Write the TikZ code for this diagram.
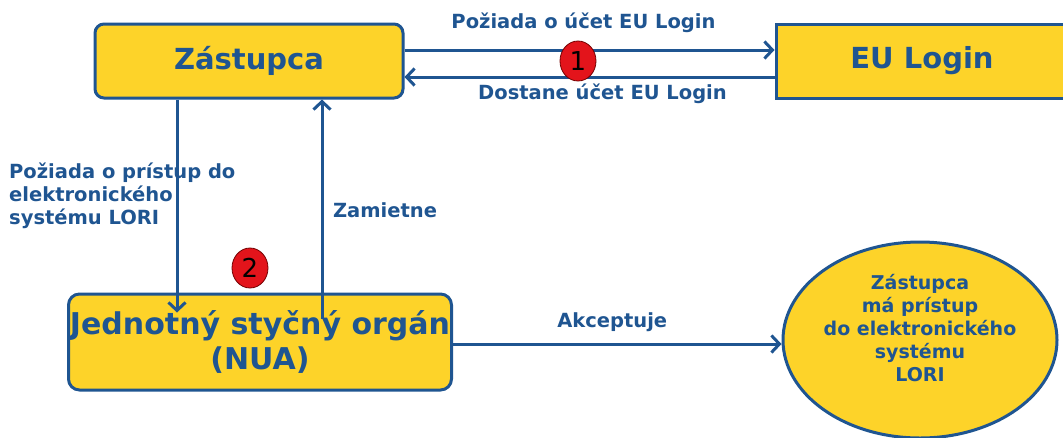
\documentclass[tikz,border=0pt]{standalone}
\usepackage{fontspec}
\setmainfont{DejaVu Sans}
\usetikzlibrary{arrows.meta,shapes.geometric}

\definecolor{loriblue}{HTML}{1F5591}
\definecolor{loriyellow}{HTML}{FDD329}
\definecolor{stepred}{HTML}{E3141B}

\begin{document}
\begin{tikzpicture}[x=1pt,y=-1pt,
  box/.style={draw=loriblue,line width=3pt,fill=loriyellow,text=loriblue,
    font=\bfseries\fontsize{29}{34}\selectfont},
  link/.style={draw=loriblue,line width=3pt,-{Straight Barb[length=8pt,width=17pt]}},
  lbl/.style={text=loriblue,font=\bfseries\fontsize{19.5}{23}\selectfont},
  stepnum/.style={ellipse,draw=red!45!black,line width=0.8pt,fill=stepred,
    minimum width=36pt,minimum height=40pt,inner sep=0pt,font=\fontsize{26}{26}\selectfont}]

\useasboundingbox (0,0) rectangle (1063,437);

\node[box,rounded corners=9pt,minimum width=308pt,minimum height=74pt] (zast) at (249,61) {Zástupca};
\node[box,minimum width=292pt,minimum height=74pt] (eul) at (922,61) {EU Login};
\node[box,rounded corners=11pt,minimum width=383pt,minimum height=96pt,align=center,inner sep=0pt,
  font=\bfseries\fontsize{30}{35}\selectfont] (nua) at (260,342) {Jednotný styčný orgán\\(NUA)};
\node[box,ellipse,minimum width=274pt,minimum height=196pt,inner sep=0pt,align=center,
  text depth=24pt,font=\bfseries\fontsize{19}{23}\selectfont] (lori) at (920,340)
  {Zástupca\\má prístup\\do elektronického\\systému\\LORI};

\draw[link] ([yshift=11pt]zast.east) -- ([yshift=11pt]eul.west)
  node[lbl,midway,above=12pt,xshift=-6pt] (req1) {Požiada o účet EU Login};
\draw[link] ([yshift=-16pt]eul.west) -- ([yshift=-16pt]zast.east)
  node[lbl,midway,below=2pt,xshift=13pt] (resp1) {Dostane účet EU Login};
\node[stepnum] (s1) at (578,61) {1};

\draw[link] (zast.south -| 177,0) -- ([yshift=-20pt]nua.north -| 177,0);
\draw[link] ([yshift=-26pt]nua.north -| 322,0) -- (zast.south -| 322,0);
\node[lbl,align=left,anchor=north west,inner sep=0pt] (req2) at (9,163)
  {Požiada o prístup do\\elektronického\\systému LORI};
\node[lbl] (rej) at (385,210) {Zamietne};
\node[stepnum] (s2) at (250,268) {2};

\draw[link] ([yshift=-2pt]nua.east) -- ([yshift=-2pt]nua.east -| lori.west)
  node[lbl,midway,above=7pt,xshift=-5pt] (acc) {Akceptuje};

\end{tikzpicture}
\end{document}
